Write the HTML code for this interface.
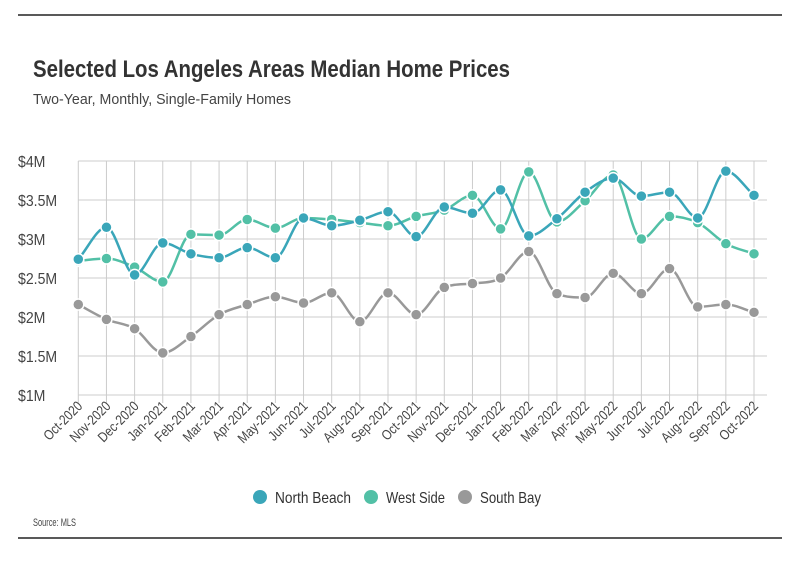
<!DOCTYPE html>
<html><head><meta charset="utf-8"><style>
body{margin:0;background:#fff;font-family:"Liberation Sans Narrow","Liberation Sans",sans-serif;}
svg text{font-family:"Liberation Sans Narrow","Liberation Sans",sans-serif;}
</style></head><body>
<svg id="c" width="800" height="575" xmlns="http://www.w3.org/2000/svg">
<line x1="18" y1="15" x2="782" y2="15" stroke="#222" stroke-width="1.5"/>
<text x="33" y="77" font-size="24" font-weight="bold" fill="#333" textLength="477" lengthAdjust="spacingAndGlyphs">Selected Los Angeles Areas Median Home Prices</text>
<text x="33" y="104" font-size="15" fill="#444" textLength="258" lengthAdjust="spacingAndGlyphs">Two-Year, Monthly, Single-Family Homes</text>
<g id="grid"></g><g id="series"></g><g id="xl"></g>
<g>
<circle cx="260" cy="497" r="7" fill="#3aa6b9"/>
<text x="275" y="503" font-size="16" fill="#333" textLength="76" lengthAdjust="spacingAndGlyphs">North Beach</text>
<circle cx="371" cy="497" r="7" fill="#52c0a6"/>
<text x="386" y="503" font-size="16" fill="#333" textLength="59" lengthAdjust="spacingAndGlyphs">West Side</text>
<circle cx="465" cy="497" r="7" fill="#999"/>
<text x="480" y="503" font-size="16" fill="#333" textLength="61" lengthAdjust="spacingAndGlyphs">South Bay</text>
</g>
<text x="33" y="526" font-size="11" fill="#444" textLength="43" lengthAdjust="spacingAndGlyphs">Source: MLS</text>
<line x1="18" y1="538" x2="782" y2="538" stroke="#222" stroke-width="1.5"/>
</svg>
<script>
const categories=["Oct-2020","Nov-2020","Dec-2020","Jan-2021","Feb-2021","Mar-2021","Apr-2021","May-2021","Jun-2021","Jul-2021","Aug-2021","Sep-2021","Oct-2021","Nov-2021","Dec-2021","Jan-2022","Feb-2022","Mar-2022","Apr-2022","May-2022","Jun-2022","Jul-2022","Aug-2022","Sep-2022","Oct-2022"];
const northBeach=[2.74,3.15,2.54,2.95,2.81,2.76,2.89,2.76,3.27,3.17,3.24,3.35,3.03,3.41,3.33,3.63,3.04,3.26,3.60,3.78,3.55,3.60,3.27,3.87,3.56];
const westSide=[2.72,2.75,2.64,2.45,3.06,3.05,3.25,3.14,3.27,3.25,3.21,3.17,3.29,3.37,3.56,3.13,3.86,3.22,3.49,3.82,3.00,3.29,3.21,2.94,2.81];
const southBay=[2.16,1.97,1.85,1.54,1.75,2.03,2.16,2.26,2.18,2.31,1.94,2.31,2.03,2.38,2.43,2.50,2.84,2.30,2.25,2.56,2.30,2.62,2.13,2.16,2.06];
const yTicks=[1,1.5,2,2.5,3,3.5,4];
const yTickLabels=["$1M","$1.5M","$2M","$2.5M","$3M","$3.5M","$4M"];
const NS="http://www.w3.org/2000/svg";
const x0=78.3,x1=754,yTop=161,yBot=395;
const xS=i=>x0+i*(x1-x0)/(categories.length-1);
const yS=v=>yBot-(v-1)/3*(yBot-yTop);
function mk(t,a,p){const e=document.createElementNS(NS,t);for(const k in a)e.setAttribute(k,a[k]);p.appendChild(e);return e;}
function squeeze(t,f){const w=t.getComputedTextLength();t.setAttribute('textLength',w*f);t.setAttribute('lengthAdjust','spacingAndGlyphs');}
const grid=document.getElementById('grid');
yTicks.forEach((v,i)=>{
 const l=mk('line',{x1:x0,x2:767,y1:yS(v),y2:yS(v),stroke:'#ccc','stroke-width':1},grid);
 
 
 const t=mk('text',{x:18,y:yS(v)+6,'font-size':16,fill:'#444'},grid);
 t.textContent=yTickLabels[i];
 
 
 squeeze(t,0.88);
});
const xl=document.getElementById('xl');
categories.forEach((c,i)=>{
 const l=mk('line',{x1:xS(i),x2:xS(i),y1:yTop,y2:yBot+8,stroke:'#ccc','stroke-width':1},grid);
 
 
 const t=mk('text',{x:xS(i)+5,y:yBot+12,'font-size':14,fill:'#444','text-anchor':'end',transform:`rotate(-45 ${xS(i)+5} ${yBot+12})`},xl);
 t.textContent=c;
 
 
 squeeze(t,0.84);
});
function monoPath(pts){
 const n=pts.length,d=[],m=[];
 for(let i=0;i<n-1;i++)d.push((pts[i+1][1]-pts[i][1])/(pts[i+1][0]-pts[i][0]));
 for(let i=0;i<n;i++){
  if(i==0)m.push(d[0]);else if(i==n-1)m.push(d[n-2]);
  else m.push(d[i-1]*d[i]<=0?0:(d[i-1]+d[i])/2);
 }
 for(let i=0;i<n-1;i++){if(d[i]==0){m[i]=m[i+1]=0;continue;}const a=m[i]/d[i],b=m[i+1]/d[i],s=a*a+b*b;if(s>9){const t=3/Math.sqrt(s);m[i]=t*a*d[i];m[i+1]=t*b*d[i];}}
 let p=`M${pts[0][0]},${pts[0][1]}`;
 for(let i=0;i<n-1;i++){const h=(pts[i+1][0]-pts[i][0])/3;p+=` C${pts[i][0]+h},${pts[i][1]+m[i]*h} ${pts[i+1][0]-h},${pts[i+1][1]-m[i+1]*h} ${pts[i+1][0]},${pts[i+1][1]}`;}
 return p;
}
const sg=document.getElementById('series');
[[southBay,'#999','south-bay'],[westSide,'#52c0a6','west-side'],[northBeach,'#3aa6b9','north-beach']].forEach(([vals,col,nm])=>{
 const g=mk('g',{},sg);
 
 
 const pts=vals.map((v,i)=>[xS(i),yS(v)]);
 const p=mk('path',{d:monoPath(pts),fill:'none',stroke:col,'stroke-width':2.5},g);
 
 
 pts.forEach(q=>{
  const c=mk('circle',{cx:q[0],cy:q[1],r:5.5,fill:col,stroke:'#fff','stroke-width':1.5},g);
  
  
 });
});
</script>
</body></html>
